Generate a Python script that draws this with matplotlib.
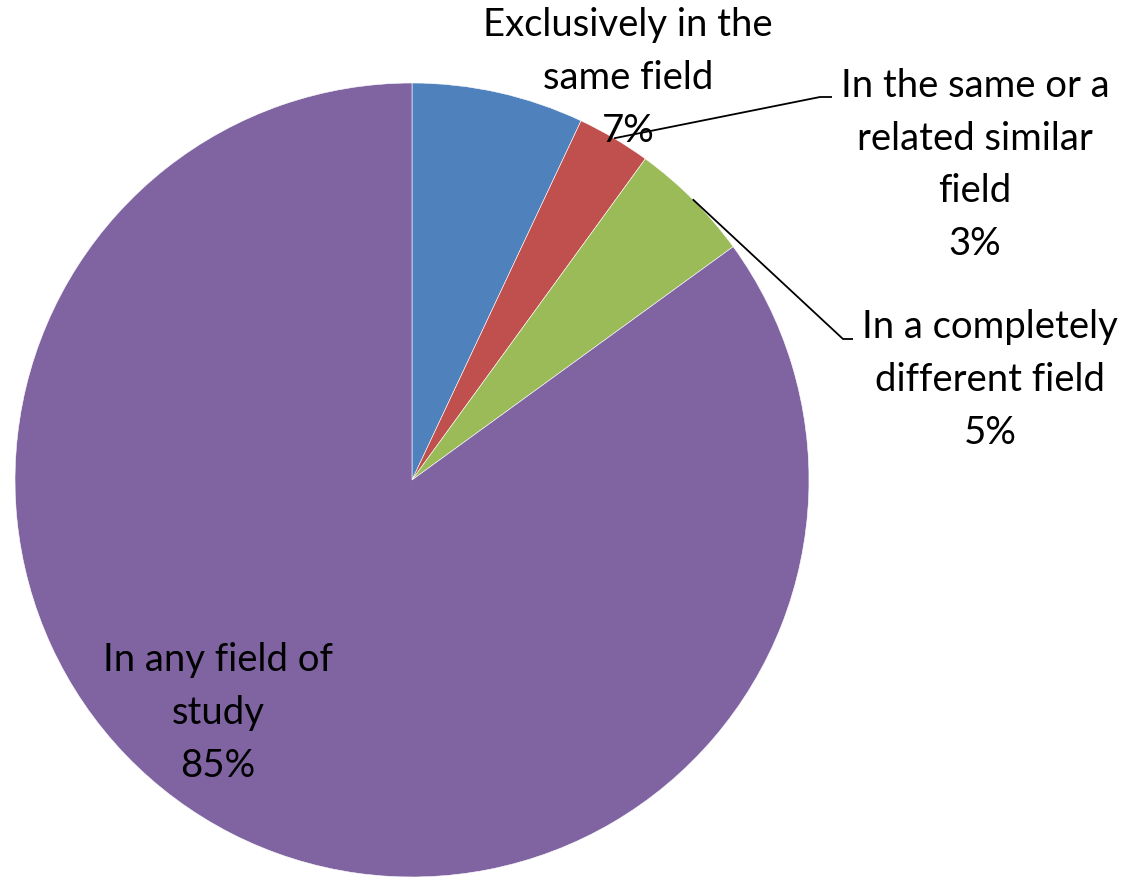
import numpy as np
import matplotlib
matplotlib.use("Agg")
import matplotlib.pyplot as plt

plt.rcParams['font.family'] = ['Lato', 'DejaVu Sans']

# survey shares, clockwise from 12 o'clock
categories = ["Exclusively in the\nsame field",
              "In the same or a\nrelated similar\nfield",
              "In a completely\ndifferent field",
              "In any field of\nstudy"]
shares = [7, 3, 5, 85]
colors = ['#4F81BD', '#C0504D', '#9BBB59', '#8064A2']

W, H = 1131, 877
fig = plt.figure(figsize=(W / 100, H / 100), dpi=100)
ax = fig.add_axes([0, 0, 1, 1])

cx, cy, R = 412, H - 480, 397
wedges, _ = ax.pie(shares, colors=colors, startangle=90, counterclock=False,
                   center=(cx, cy), radius=R,
                   wedgeprops=dict(edgecolor='white', linewidth=0.4))
for w in wedges:
    w.set_clip_on(False)

ax.set_xlim(0, W)
ax.set_ylim(0, H)
ax.set_aspect('equal')
ax.axis('off')

# label centres and elbow points of the leader lines
label_pos = [(628, H - 78), (975, H - 165), (990, H - 380), (218, H - 713)]
elbows = [None, ((820, H - 97), (832, H - 97)), ((843, H - 339), (853, H - 339)), None]

cum = np.cumsum([0] + shares)
total = float(sum(shares))
for i, name in enumerate(categories):
    txt = "%s\n%d%%" % (name, shares[i])
    ax.text(label_pos[i][0], label_pos[i][1], txt, ha='center', va='center',
            fontsize=27.5, linespacing=1.57, color='black')
    if elbows[i] is not None:
        mid = (cum[i] + shares[i] / 2.0) / total * 2 * np.pi
        sx = cx + R * np.sin(mid)
        sy = cy + R * np.cos(mid)
        (ex, ey), (hx, hy) = elbows[i]
        ax.plot([sx, ex, hx], [sy, ey, hy], color='black', lw=1.3,
                solid_capstyle='butt')

fig.savefig("out.png", dpi=100)
